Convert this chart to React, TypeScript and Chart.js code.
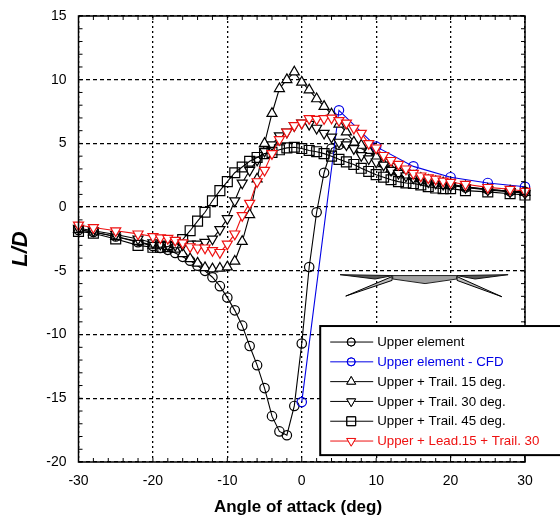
import React, { useEffect, useRef } from "react";
import { Chart, registerables } from "chart.js";
import { drawPoint } from "chart.js/helpers";

Chart.register(...registerables);

const FONT = '"Liberation Sans", Arial, sans-serif';

const anglesFull = [-30, -28, -25, -22, -20, -19, -18, -17, -16, -15, -14, -13, -12, -11, -10, -9, -8, -7, -6, -5, -4, -3, -2, -1, 0, 1, 2, 3, 4, 5, 6, 7, 8, 9, 10, 11, 12, 13, 14, 15, 16, 17, 18, 19, 20, 22, 25, 28, 30];

const upperElement = [-1.8, -1.95, -2.3, -2.75, -3.05, -3.2, -3.35, -3.6, -3.9, -4.2, -4.6, -5.0, -5.5, -6.2, -7.1, -8.1, -9.3, -10.9, -12.4, -14.2, -16.4, -17.6, -17.9, -15.6, -10.7, -4.7, -0.4, 2.7, 4.6, 4.9, 5.0, 4.9, 4.6, 4.3, 3.9, 3.45, 3.1, 2.8, 2.6, 2.4, 2.25, 2.05, 1.95, 1.85, 1.75, 1.55, 1.4, 1.25, 1.2];

const cfdAngles = [0, 5, 10, 15, 20, 25, 30];
const upperCfd = [-15.3, 7.6, 4.75, 3.2, 2.35, 1.9, 1.6];

const trail15 = [-1.75, -1.95, -2.3, -2.7, -3.0, -3.0, -3.1, -3.3, -3.65, -4.05, -4.4, -4.75, -4.85, -4.8, -4.7, -4.25, -2.7, -0.6, 2.2, 5.0, 7.35, 9.3, 10.0, 10.6, 9.8, 9.2, 8.5, 7.9, 7.3, 6.5, 5.9, 5.1, 4.85, 4.45, 3.95, 3.4, 3.0, 2.85, 2.6, 2.4, 2.25, 2.1, 2.0, 1.9, 1.8, 1.6, 1.4, 1.25, 1.15];

const trail30 = [-1.65, -1.85, -2.15, -2.5, -2.8, -2.9, -2.95, -3.0, -2.95, -2.9, -2.9, -2.75, -2.5, -1.75, -0.9, 0.5, 1.9, 2.9, 3.7, 4.4, 4.9, 5.6, 5.9, 6.4, 6.6, 6.5, 6.2, 5.8, 5.5, 5.1, 4.9, 4.6, 4.05, 3.8, 3.55, 3.3, 2.9, 2.65, 2.45, 2.3, 2.15, 2.0, 1.9, 1.8, 1.7, 1.55, 1.35, 1.2, 1.1];

const trail45 = [-1.9, -2.05, -2.5, -3.0, -3.15, -3.15, -3.1, -2.8, -2.55, -1.85, -1.1, -0.4, 0.5, 1.3, 2.0, 2.7, 3.15, 3.6, 3.9, 4.2, 4.3, 4.5, 4.65, 4.7, 4.6, 4.45, 4.35, 4.2, 4.0, 3.75, 3.55, 3.35, 3.05, 2.8, 2.55, 2.35, 2.15, 2.0, 1.9, 1.85, 1.75, 1.6, 1.5, 1.45, 1.45, 1.3, 1.2, 1.05, 0.95];

const lead15Trail30 = [-1.4, -1.6, -1.85, -2.1, -2.3, -2.4, -2.45, -2.6, -2.8, -3.1, -3.2, -3.2, -3.4, -3.55, -2.9, -2.1, -0.65, 0.3, 2.0, 2.9, 4.2, 5.3, 5.9, 6.4, 6.6, 6.95, 6.9, 6.95, 7.0, 6.8, 6.6, 6.2, 5.8, 5.0, 4.65, 4.06, 3.67, 3.36, 3.0, 2.65, 2.45, 2.3, 2.2, 2.05, 1.95, 1.8, 1.55, 1.4, 1.25];

const legendLabels = ["Upper element", "Upper element - CFD", "Upper + Trail. 15 deg.", "Upper + Trail. 30 deg.", "Upper + Trail. 45 deg.", "Upper + Lead.15 + Trail. 30"];
const xTitle = "Angle of attack (deg)";
const yTitle = "L/D";

// Airfoil sketch, in axis units
const airfoilBody = [[12.23, -5.37], [20.83, -5.37], [20.83, -5.64], [16.57, -6.0], [12.23, -5.64]];
const airfoilLeftSlat = [[5.15, -5.3], [12.23, -5.37], [9.85, -5.64]];
const airfoilRightSlat = [[27.73, -5.3], [20.83, -5.37], [23.3, -5.64]];
const airfoilLeftFlap = [[5.91, -6.98], [12.14, -5.45], [12.14, -5.75]];
const airfoilRightFlap = [[26.89, -7.03], [20.87, -5.45], [20.87, -5.75]];

const pairs = (xs: number[], ys: number[]) => xs.map((x, i) => ({ x, y: ys[i] }));

const seriesStyles = [
  { color: "#000000", pointStyle: "circle", radius: 4.7, rotation: 0, fill: "transparent" },
  { color: "#0000e6", pointStyle: "circle", radius: 4.7, rotation: 0, fill: "transparent" },
  { color: "#000000", pointStyle: "triangle", radius: 5.8, rotation: 0, fill: "#ffffff" },
  { color: "#000000", pointStyle: "triangle", radius: 5.8, rotation: 180, fill: "#ffffff" },
  { color: "#000000", pointStyle: "rect", radius: 7, rotation: 0, fill: "transparent" },
  { color: "#ee1111", pointStyle: "triangle", radius: 5.8, rotation: 180, fill: "#ffffff" },
];

const mkDataset = (i: number, xs: number[], ys: number[], order: number) => {
  const s = seriesStyles[i];
  return {
    label: legendLabels[i],
    data: pairs(xs, ys),
    borderColor: s.color,
    borderWidth: 1.1,
    backgroundColor: s.fill,
    pointBorderColor: s.color,
    pointBackgroundColor: s.fill,
    pointBorderWidth: 1.2,
    pointStyle: s.pointStyle,
    pointRadius: s.radius,
    pointRotation: s.rotation,
    tension: 0,
    fill: false,
    clip: false,
    order,
  };
};

const framePlugin = {
  id: "frame",
  afterDatasetsDraw(chart: any) {
    const { ctx, chartArea: a, scales } = chart;
    const x = scales.x;
    const y = scales.y;
    ctx.save();

    // axis frame and inward ticks
    ctx.strokeStyle = "#000";
    ctx.lineWidth = 1.5;
    ctx.strokeRect(a.left, a.top, a.right - a.left, a.bottom - a.top);
    ctx.lineWidth = 1;
    ctx.beginPath();
    for (let v = -30; v <= 30; v += 2) {
      const p = x.getPixelForValue(v);
      ctx.moveTo(p, a.top); ctx.lineTo(p, a.top + 4);
      ctx.moveTo(p, a.bottom); ctx.lineTo(p, a.bottom - 4);
    }
    for (let v = -20; v <= 15; v += 1) {
      const p = y.getPixelForValue(v);
      ctx.moveTo(a.left, p); ctx.lineTo(a.left + 4, p);
      ctx.moveTo(a.right, p); ctx.lineTo(a.right - 4, p);
    }
    ctx.stroke();

    // airfoil sketch
    const poly = (pts: number[][], fill: string, stroke: string) => {
      ctx.beginPath();
      pts.forEach(([px, py], i) => {
        const X = x.getPixelForValue(px);
        const Y = y.getPixelForValue(py);
        if (i === 0) ctx.moveTo(X, Y); else ctx.lineTo(X, Y);
      });
      ctx.closePath();
      ctx.fillStyle = fill;
      ctx.fill();
      ctx.strokeStyle = stroke;
      ctx.lineWidth = 1;
      ctx.stroke();
    };
    poly(airfoilBody, "#a0a0a0", "#222");
    poly(airfoilLeftSlat, "#555", "#111");
    poly(airfoilRightSlat, "#555", "#111");
    poly(airfoilLeftFlap, "#bbb", "#000");
    poly(airfoilRightFlap, "#bbb", "#000");

    // legend box
    const boxLeft = x.getPixelForValue(2.48);
    const boxTop = y.getPixelForValue(-9.33);
    const boxBottom = y.getPixelForValue(-19.46);
    ctx.fillStyle = "#fff";
    ctx.fillRect(boxLeft, boxTop, chart.width - boxLeft + 4, boxBottom - boxTop);
    ctx.strokeStyle = "#000";
    ctx.lineWidth = 2;
    ctx.strokeRect(boxLeft, boxTop, chart.width - boxLeft + 4, boxBottom - boxTop);

    ctx.font = `13.3px ${FONT}`;
    ctx.textBaseline = "middle";
    ctx.textAlign = "left";
    legendLabels.forEach((label, i) => {
      const s = seriesStyles[i];
      const rowY = boxTop + 16 + i * 19.8;
      ctx.strokeStyle = s.color;
      ctx.lineWidth = 1;
      ctx.beginPath();
      ctx.moveTo(boxLeft + 10, rowY);
      ctx.lineTo(boxLeft + 53, rowY);
      ctx.stroke();
      ctx.fillStyle = s.fill;
      drawPoint(ctx, { pointStyle: s.pointStyle, radius: s.radius - 0.7, rotation: s.rotation, borderWidth: 1 }, boxLeft + 31, rowY);
      ctx.fill();
      ctx.stroke();
      ctx.fillStyle = s.color;
      ctx.fillText(label, boxLeft + 57, rowY + 0.5);
    });

    // axis titles
    ctx.fillStyle = "#000";
    ctx.textAlign = "center";
    ctx.font = `bold 17px ${FONT}`;
    ctx.fillText(xTitle, 298, 507);
    ctx.save();
    ctx.translate(21, 249);
    ctx.rotate(-Math.PI / 2);
    ctx.font = `italic bold 22px ${FONT}`;
    ctx.fillText(yTitle, 0, 0);
    ctx.restore();

    ctx.restore();
  },
};

export default function App() {
  const ref = useRef<HTMLCanvasElement>(null);
  useEffect(() => {
    const chart = new Chart(ref.current as HTMLCanvasElement, {
      type: "line",
      data: {
        datasets: [
          mkDataset(0, anglesFull, upperElement, 5),
          mkDataset(1, cfdAngles, upperCfd, 4),
          mkDataset(2, anglesFull, trail15, 3),
          mkDataset(3, anglesFull, trail30, 2),
          mkDataset(4, anglesFull, trail45, 1),
          mkDataset(5, anglesFull, lead15Trail30, 0),
        ],
      } as any,
      options: {
        responsive: false,
        animation: false,
        layout: { padding: { top: 16, right: 35, left: 0, bottom: 0 } },
        plugins: { legend: { display: false }, tooltip: { enabled: false } },
        scales: {
          x: {
            type: "linear",
            min: -30,
            max: 30,
            afterFit: (s: any) => { s.height = 57; s.paddingLeft = 0; s.paddingRight = 0; },
            ticks: { stepSize: 10, color: "#000", font: { family: FONT, size: 14 }, padding: 11, maxRotation: 0 },
            grid: { color: "#000", lineWidth: 1.3, drawTicks: false },
            border: { display: false, dash: [2, 3] },
          },
          y: {
            min: -20,
            max: 15,
            afterFit: (s: any) => { s.width = 78.5; s.paddingTop = 0; s.paddingBottom = 0; },
            ticks: { stepSize: 5, color: "#000", font: { family: FONT, size: 14 }, padding: 12 },
            grid: { color: "#000", lineWidth: 1.3, drawTicks: false },
            border: { display: false, dash: [4, 3] },
          },
        },
      } as any,
      plugins: [framePlugin],
    });
    return () => chart.destroy();
  }, []);
  return (
    <div style={{ position: "absolute", left: 0, top: 0, width: 560, height: 519, overflow: "hidden", background: "#fff" }}>
      <canvas ref={ref} width={560} height={519} style={{ display: "block" }} />
    </div>
  );
}
